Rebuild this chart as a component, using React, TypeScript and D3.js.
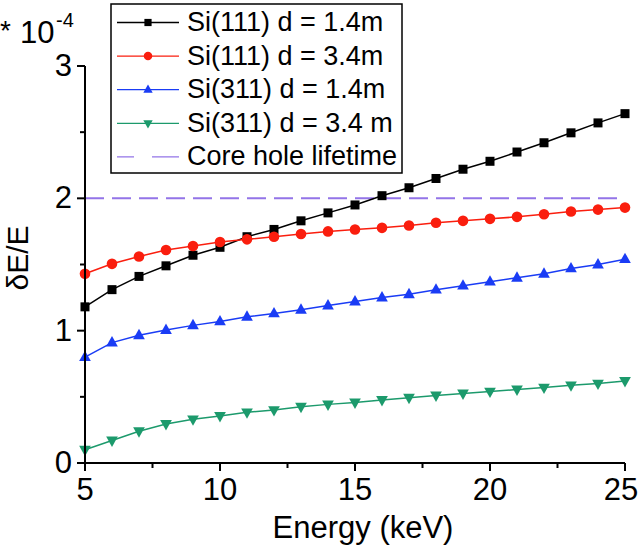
import React from "react";
import * as d3 from "d3";

const energy = [5, 6, 7, 8, 9, 10, 11, 12, 13, 14, 15, 16, 17, 18, 19, 20, 21, 22, 23, 24, 25];
const si111d14 = [1.18, 1.31, 1.41, 1.49, 1.57, 1.63, 1.71, 1.765, 1.83, 1.89, 1.95, 2.02, 2.08, 2.15, 2.22, 2.28, 2.35, 2.42, 2.495, 2.57, 2.64];
const si111d34 = [1.43, 1.505, 1.56, 1.61, 1.64, 1.67, 1.69, 1.71, 1.73, 1.75, 1.765, 1.777, 1.795, 1.815, 1.83, 1.845, 1.86, 1.88, 1.9, 1.915, 1.93];
const si311d14 = [0.8, 0.91, 0.965, 1.005, 1.04, 1.07, 1.105, 1.13, 1.158, 1.19, 1.22, 1.25, 1.275, 1.31, 1.34, 1.37, 1.4, 1.43, 1.47, 1.5, 1.54];
const si311d34 = [0.1, 0.17, 0.24, 0.295, 0.33, 0.355, 0.383, 0.4, 0.425, 0.443, 0.458, 0.476, 0.493, 0.51, 0.526, 0.54, 0.556, 0.57, 0.587, 0.6, 0.62];
const coreHole = 2.0;
const seriesNames = ["Si(111) d = 1.4m", "Si(111) d = 3.4m", "Si(311) d = 1.4m", "Si(311) d = 3.4 m", "Core hole lifetime"];
const xTicks = [5, 10, 15, 20, 25];
const xMinor = [7.5, 12.5, 17.5, 22.5];
const yTicks = [0, 1, 2, 3];
const yMinor = [0.5, 1.5, 2.5];

const FONT = "'Liberation Sans', Arial, Helvetica, sans-serif";

type Shape = "square" | "circle" | "up" | "down";

function Marker({ shape, x, y, color, s = 1 }: { shape: Shape; x: number; y: number; color: string; s?: number }) {
  if (shape === "square") {
    const h = 4.5 * s;
    return <rect x={x - h} y={y - h} width={2 * h} height={2 * h} fill={color} />;
  }
  if (shape === "circle") return <circle cx={x} cy={y} r={5.3 * s} fill={color} />;
  if (shape === "up") {
    const r = 6.5 * s;
    return <path d={`M${x},${y - r} L${x + r * 0.9},${y + r * 0.6} L${x - r * 0.9},${y + r * 0.6}Z`} fill={color} />;
  }
  const r = 6.5 * s;
  return <path d={`M${x},${y + r} L${x + r * 0.9},${y - r * 0.6} L${x - r * 0.9},${y - r * 0.6}Z`} fill={color} />;
}

export default function App() {
  const W = 640, H = 549;
  const x = d3.scaleLinear().domain([5, 25]).range([85, 625]);
  const y = d3.scaleLinear().domain([0, 3]).range([463, 66]);
  const series = [
    { name: seriesNames[0], vals: si111d14, color: "#000000", shape: "square" as Shape },
    { name: seriesNames[1], vals: si111d34, color: "#fa1e0e", shape: "circle" as Shape },
    { name: seriesNames[2], vals: si311d14, color: "#1a3cf5", shape: "up" as Shape },
    { name: seriesNames[3], vals: si311d34, color: "#1c9a6c", shape: "down" as Shape },
  ];
  const line = d3.line<number>().x((_, i) => x(energy[i])).y((d) => y(d));
  const legendX = 111, legendY = 4, legendW = 291, legendH = 169;
  const rowY = (i: number) => 22.5 + i * 33.6;
  return (
    <svg width={W} height={H} style={{ position: "absolute", left: 0, top: 0, background: "#fff" }} fontFamily={FONT}>
      <rect width={W} height={H} fill="#fff" />
      <line x1={x(5)} x2={x(25)} y1={y(coreHole)} y2={y(coreHole)} stroke="#9374e8" strokeWidth={2} strokeDasharray="19,8" />
      {series.map((s) => (
        <g key={s.name}>
          <path d={line(s.vals) || ""} fill="none" stroke={s.color} strokeWidth={1.5} />
          {s.vals.map((v, i) => (
            <Marker key={i} shape={s.shape} x={x(energy[i])} y={y(v)} color={s.color} />
          ))}
        </g>
      ))}
      <line x1={x(5)} x2={x(25)} y1={y(0)} y2={y(0)} stroke="#000" strokeWidth={2} />
      <line x1={x(5)} x2={x(5)} y1={y(0) + 1} y2={y(3)} stroke="#000" strokeWidth={2} />
      {xTicks.map((t) => (
        <g key={"xt" + t}>
          <line x1={x(t)} x2={x(t)} y1={y(0)} y2={y(0) + 8} stroke="#000" strokeWidth={2} />
          <text x={Math.min(x(t), 621)} y={500} textAnchor="middle" fontSize={31}>{t}</text>
        </g>
      ))}
      {xMinor.map((t) => (
        <line key={"xm" + t} x1={x(t)} x2={x(t)} y1={y(0)} y2={y(0) + 5} stroke="#000" strokeWidth={2} />
      ))}
      {yTicks.map((t) => (
        <g key={"yt" + t}>
          <line x1={x(5) - 8} x2={x(5)} y1={y(t)} y2={y(t)} stroke="#000" strokeWidth={2} />
          <text x={72} y={y(t) + 10} textAnchor="end" fontSize={31}>{t}</text>
        </g>
      ))}
      {yMinor.map((t) => (
        <line key={"ym" + t} x1={x(5) - 5} x2={x(5)} y1={y(t)} y2={y(t)} stroke="#000" strokeWidth={2} />
      ))}
      <text x={363} y={538} textAnchor="middle" fontSize={31}>Energy (keV)</text>
      <text transform={`translate(28,${258}) rotate(-90)`} textAnchor="middle" fontSize={30}>δE/E</text>
      <text x={0} y={40} fontSize={28}>*</text>
      <text x={20} y={43} fontSize={31}>10</text>
      <text x={56} y={27} fontSize={20}>-4</text>
      <rect x={legendX} y={legendY} width={legendW} height={legendH} fill="#fff" stroke="#000" strokeWidth={1.5} />
      {series.map((s, i) => (
        <g key={"lg" + i}>
          <line x1={117} x2={179} y1={rowY(i)} y2={rowY(i)} stroke={s.color} strokeWidth={1.3} />
          <Marker shape={s.shape} x={148} y={rowY(i)} color={s.color} s={0.8} />
          <text x={187} y={rowY(i) + 8.5} fontSize={27}>{s.name}</text>
        </g>
      ))}
      <line x1={117} x2={179} y1={rowY(4)} y2={rowY(4)} stroke="#9374e8" strokeWidth={1.3} strokeDasharray="17,18,27" />
      <text x={187} y={rowY(4) + 8.5} fontSize={27}>{seriesNames[4]}</text>
    </svg>
  );
}
